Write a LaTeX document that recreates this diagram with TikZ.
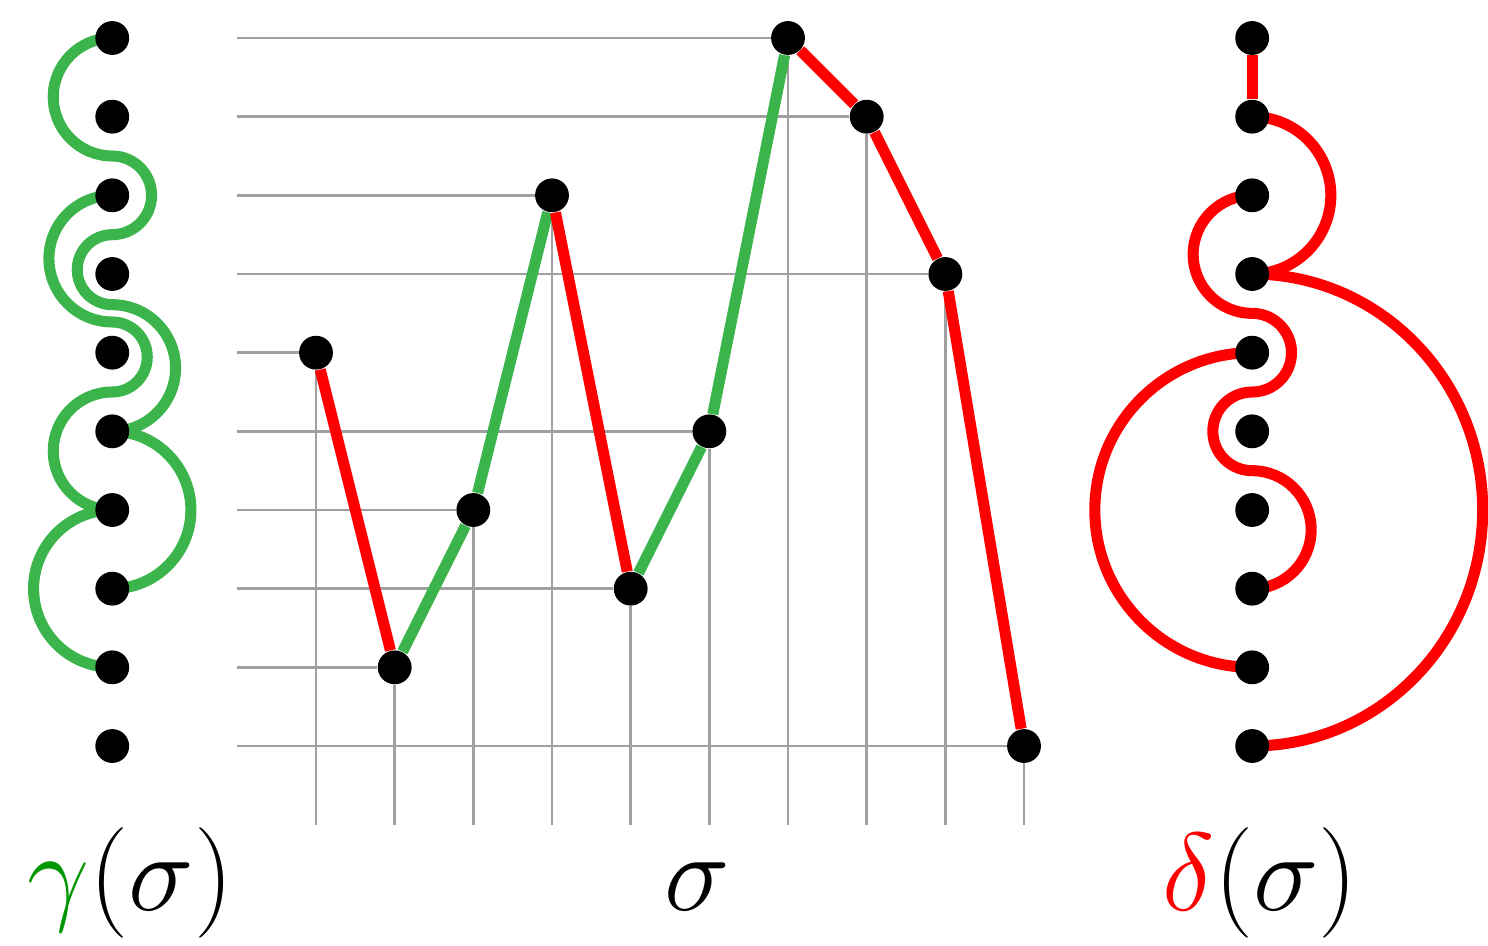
\RequirePackage{fix-cm}
\documentclass[tikz,border=0pt]{standalone}
\usepackage{amsmath}
\usepackage{tikz}
\usetikzlibrary{arrows.meta,positioning,backgrounds}
\definecolor{arcgreen}{RGB}{59,180,75}
\definecolor{labgreen}{RGB}{0,150,0}
\definecolor{gridgray}{RGB}{160,160,160}

\begin{document}
\begin{tikzpicture}[node distance={10mm}, vtx/.style = {circle, fill=black, inner sep=0pt, minimum size=4.3mm}, gline/.style = {line width=4pt, arcgreen}, rline/.style = {line width=4pt, red}, gridln/.style = {line width=0.9pt, gridgray}, lab/.style = {anchor=base, font=\fontsize{40}{45}\selectfont}]
                \useasboundingbox (-3.017,-1.542) rectangle (15.898,10.483);
                \node[vtx] (s1) at (1,6) {};
                \node[vtx] (s2) at (2,2) {};
                \node[vtx] (s3) at (3,4) {};
                \node[vtx] (s4) at (4,8) {};
                \node[vtx] (s5) at (5,3) {};
                \node[vtx] (s6) at (6,5) {};
                \node[vtx] (s7) at (7,10) {};
                \node[vtx] (s8) at (8,9) {};
                \node[vtx] (s9) at (9,7) {};
                \node[vtx] (s10) at (10,1) {};
                \coordinate (y1) at (0,1);
                \coordinate (y2) at (0,2);
                \coordinate (y3) at (0,3);
                \coordinate (y4) at (0,4);
                \coordinate (y5) at (0,5);
                \coordinate (y6) at (0,6);
                \coordinate (y7) at (0,7);
                \coordinate (y8) at (0,8);
                \coordinate (y9) at (0,9);
                \coordinate (y10) at (0,10);
                \coordinate (x1) at (1,0);
                \coordinate (x2) at (2,0);
                \coordinate (x3) at (3,0);
                \coordinate (x4) at (4,0);
                \coordinate (x5) at (5,0);
                \coordinate (x6) at (6,0);
                \coordinate (x7) at (7,0);
                \coordinate (x8) at (8,0);
                \coordinate (x9) at (9,0);
                \coordinate (x10) at (10,0);
                \draw[gridln] (y6) -- (s1) -- (x1);
                \draw[gridln] (y2) -- (s2) -- (x2);
                \draw[gridln] (y4) -- (s3) -- (x3);
                \draw[gridln] (y8) -- (s4) -- (x4);
                \draw[gridln] (y3) -- (s5) -- (x5);
                \draw[gridln] (y5) -- (s6) -- (x6);
                \draw[gridln] (y10) -- (s7) -- (x7);
                \draw[gridln] (y9) -- (s8) -- (x8);
                \draw[gridln] (y7) -- (s9) -- (x9);
                \draw[gridln] (y1) -- (s10) -- (x10);
                \path[rline] (s1) edge (s2);
                \path[gline] (s2) edge (s3);
                \path[gline] (s3) edge (s4);
                \path[rline] (s4) edge (s5);
                \path[gline] (s5) edge (s6);
                \path[gline] (s6) edge (s7);
                \path[rline] (s7) edge (s8);
                \path[rline] (s8) edge (s9);
                \path[rline] (s9) edge (s10);
                \node[vtx] (g10) at (-1.59,10) {};
                \node[vtx] (g9) [below of=g10] {};
                \node[vtx] (g8) [below of=g9] {};
                \node[vtx] (g7) [below of=g8] {};
                \node[vtx] (g6) [below of=g7] {};
                \node[vtx] (g5) [below of=g6] {};
                \node[vtx] (g4) [below of=g5] {};
                \node[vtx] (g3) [below of=g4] {};
                \node[vtx] (g2) [below of=g3] {};
                \node[vtx] (g1) [below of=g2] {};
                \node[vtx] (d10) at (12.9,10) {};
                \node[vtx] (d9) [below of=d10] {};
                \node[vtx] (d8) [below of=d9] {};
                \node[vtx] (d7) [below of=d8] {};
                \node[vtx] (d6) [below of=d7] {};
                \node[vtx] (d5) [below of=d6] {};
                \node[vtx] (d4) [below of=d5] {};
                \node[vtx] (d3) [below of=d4] {};
                \node[vtx] (d2) [below of=d3] {};
                \node[vtx] (d1) [below of=d2] {};
                \begin{scope}[on background layer]
                \draw[gline] (g10.center) arc[start angle=90, end angle=270, radius=0.75] arc[start angle=90, end angle=-90, radius=0.5] arc[start angle=90, end angle=270, radius=0.445] arc[start angle=90, end angle=-90, radius=0.805];
                \draw[gline] (g8.center) arc[start angle=90, end angle=270, radius=0.805] arc[start angle=90, end angle=-90, radius=0.445] arc[start angle=90, end angle=270, radius=0.75];
                \draw[gline] (g5.center) arc[start angle=90, end angle=-90, radius=1];
                \draw[gline] (g4.center) arc[start angle=90, end angle=270, radius=1];
                \path[rline] (d10) edge (d9);
                \draw[rline] (d9.center) arc[start angle=90, end angle=-90, radius=1];
                \draw[rline] (d7.center) arc[start angle=90, end angle=-90, x radius=2.93, y radius=3];
                \draw[rline] (d8.center) arc[start angle=90, end angle=270, radius=0.75] arc[start angle=90, end angle=-90, radius=0.5] arc[start angle=90, end angle=270, radius=0.5] arc[start angle=90, end angle=-90, radius=0.75];
                \draw[rline] (d6.center) arc[start angle=90, end angle=270, radius=2];
                \end{scope}
                \node[lab] (gamlab) at (-1.36,-1.085) {${\color{labgreen}\gamma}(\sigma)$};
                \node[lab] (siglab) at (5.84,-1.085) {$\sigma$};
                \node[lab] (dellab) at (13.0,-1.085) {${\color{red}\delta}(\sigma)$};
            \end{tikzpicture}
\end{document}
